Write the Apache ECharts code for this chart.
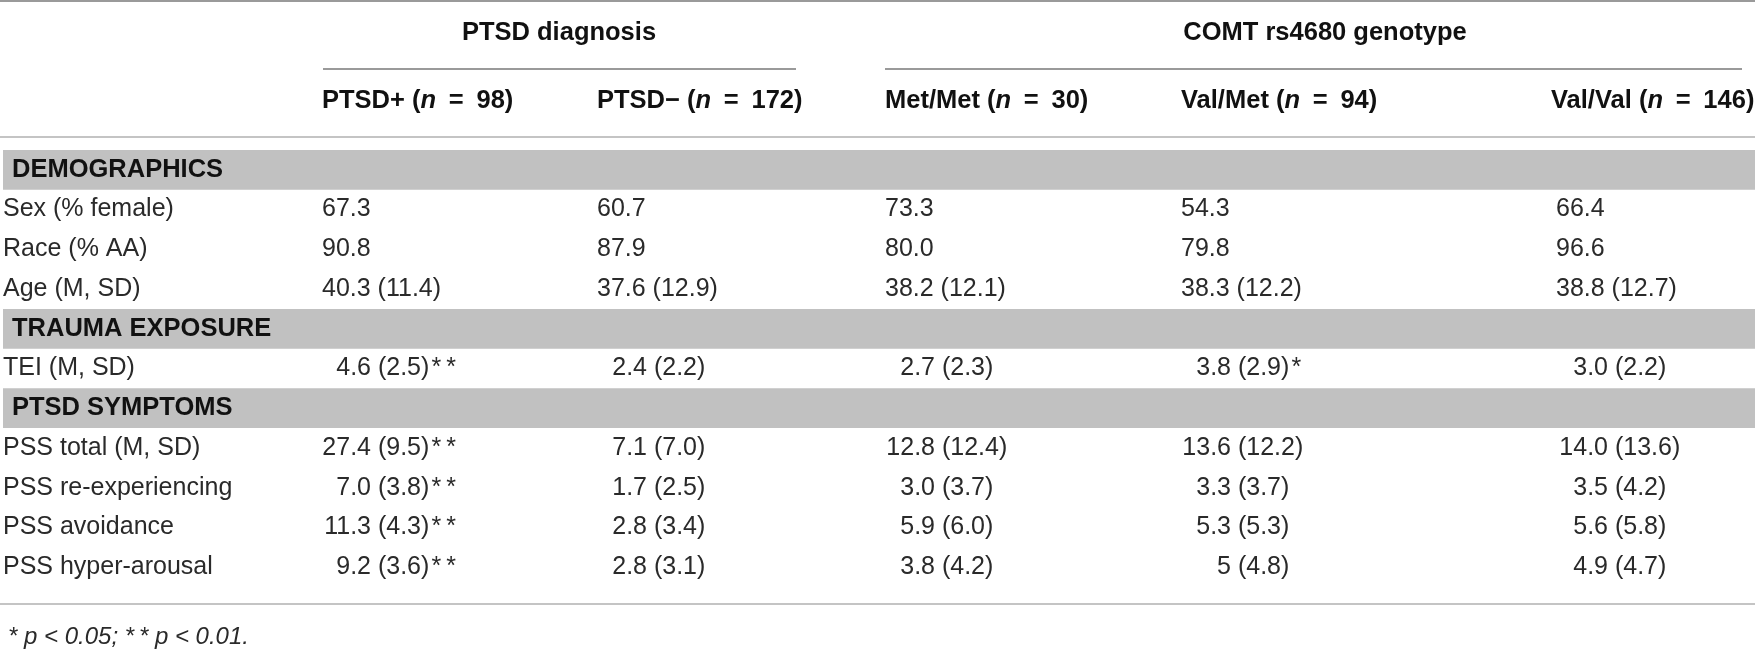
<!DOCTYPE html>
<html style="height: 100%">
<head>
    <meta charset="utf-8">
    <title>PTSD / COMT table</title>
    <script src="https://cdn.jsdelivr.net/npm/echarts/dist/echarts.min.js"></script>
</head>
<body style="height: 100%; margin: 0; background: #fff">
    <div id="main" style="width: 1755px; height: 651px"></div>
    <script type="text/javascript">
        // 表格数据
        var groups = ['PTSD diagnosis', 'COMT rs4680 genotype'];
        var columns = ['PTSD+', 'PTSD\u2212', 'Met/Met', 'Val/Met', 'Val/Val'];
        var columnN = [98, 172, 30, 94, 146];
        var sectionNames = ['DEMOGRAPHICS', 'TRAUMA EXPOSURE', 'PTSD SYMPTOMS'];
        var rowLabels = ['Sex (% female)', 'Race (% AA)', 'Age (M, SD)', 'TEI (M, SD)',
            'PSS total (M, SD)', 'PSS re-experiencing', 'PSS avoidance', 'PSS hyper-arousal'];
        var sectionOfRow = [0, 0, 0, 1, 2, 2, 2, 2];
        var ptsdPos = ['67.3', '90.8', '40.3 (11.4)', '4.6 (2.5)**', '27.4 (9.5)**', '7.0 (3.8)**', '11.3 (4.3)**', '9.2 (3.6)**'];
        var ptsdNeg = ['60.7', '87.9', '37.6 (12.9)', '2.4 (2.2)', '7.1 (7.0)', '1.7 (2.5)', '2.8 (3.4)', '2.8 (3.1)'];
        var metMet = ['73.3', '80.0', '38.2 (12.1)', '2.7 (2.3)', '12.8 (12.4)', '3.0 (3.7)', '5.9 (6.0)', '3.8 (4.2)'];
        var valMet = ['54.3', '79.8', '38.3 (12.2)', '3.8 (2.9)*', '13.6 (12.2)', '3.3 (3.7)', '5.3 (5.3)', '5 (4.8)'];
        var valVal = ['66.4', '96.6', '38.8 (12.7)', '3.0 (2.2)', '14.0 (13.6)', '3.5 (4.2)', '5.6 (5.8)', '4.9 (4.7)'];
        var footnote = '* p < 0.05; ** p < 0.01.';

        // 版式
        var W = 1755;
        var FONT = '"Liberation Sans", Arial, sans-serif';
        var FS = 25;
        var FSB = 25.5;
        var INK = '#2a2a2a';
        var colLeft = [322, 597, 885, 1181, 1556];
        var headLeft = [322, 597, 885, 1181, 1551];
        var colAnchor = [371, 647, 935, 1231, 1608];
        var groupCenter = [559, 1325];
        var groupSpan = [[323, 796], [885, 1742]];
        var colValues = [ptsdPos, ptsdNeg, metMet, valMet, valVal];

        // 星号之间留一点空隙
        function stars(t) {
            return t.replace(/\*\*/g, '\u200a*\u2009*').replace(/\)\*$/, ')\u200a*');
        }

        // 行类别（含分节标题）
        var categories = [];
        var bandData = [];
        var cellData = [];
        var cellText = [];
        var cellAlign = [];
        sectionNames.forEach(function (s, si) {
            bandData.push([0, categories.length]);
            categories.push(s);
            rowLabels.forEach(function (label, ri) {
                if (sectionOfRow[ri] !== si) return;
                var row = categories.length;
                categories.push(label);
                cellData.push([3, row]); cellText.push(label); cellAlign.push('left');
                colValues.forEach(function (vals, ci) {
                    var t = vals[ri];
                    var sp = t.indexOf(' ');
                    if (si === 0) {
                        cellData.push([colLeft[ci], row]); cellText.push(t); cellAlign.push('left');
                    } else {
                        // 以括号前的空格对齐
                        cellData.push([colAnchor[ci], row]); cellText.push(t.slice(0, sp)); cellAlign.push('right');
                        cellData.push([colAnchor[ci], row]); cellText.push(stars(t.slice(sp))); cellAlign.push('left');
                    }
                });
            });
        });

        var myChart = echarts.init(document.getElementById('main'));

        var graphics = [];
        function hline(x1, x2, y, color) {
            graphics.push({ type: 'line', silent: true, shape: { x1: x1, y1: y, x2: x2, y2: y },
                style: { stroke: color, lineWidth: 2 } });
        }
        hline(0, W, 1, '#9a9a9a');
        hline(0, W, 137, '#c4c4c4');
        hline(0, W, 604, '#c4c4c4');
        groups.forEach(function (g, gi) {
            graphics.push({ type: 'text', x: groupCenter[gi], y: 33, silent: true,
                style: { text: g, fill: '#111', font: 'bold ' + FSB + 'px ' + FONT, align: 'center', verticalAlign: 'middle' } });
            hline(groupSpan[gi][0], groupSpan[gi][1], 69, '#9a9a9a');
        });
        columns.forEach(function (c, ci) {
            graphics.push({ type: 'text', x: headLeft[ci], y: 101, silent: true,
                style: { text: c + ' ({i|n}\u2002=\u2002' + columnN[ci] + ')', fill: '#111',
                    font: 'bold ' + FSB + 'px ' + FONT, align: 'left', verticalAlign: 'middle',
                    rich: { i: { fontStyle: 'italic', fontWeight: 'bold', fontSize: FSB, fontFamily: FONT, fill: '#111' } } } });
        });
        graphics.push({ type: 'text', x: 8, y: 637, silent: true,
            style: { text: footnote.replace('**', '*\u2009*'), fill: INK, font: 'italic 24px ' + FONT, align: 'left', verticalAlign: 'middle' } });

        var option = {
            backgroundColor: '#fff',
            animation: false,
            grid: { left: 0, right: 0, top: 150, bottom: 64 },
            xAxis: { type: 'value', min: 0, max: W, show: false },
            yAxis: { type: 'category', inverse: true, data: categories, show: false },
            graphic: graphics,
            series: [
                {
                    type: 'custom',
                    data: bandData,
                    renderItem: function (params, api) {
                        var p = api.coord([0, api.value(1)]);
                        var h = api.size([0, 1])[1];
                        return {
                            type: 'group',
                            children: [
                                { type: 'rect', shape: { x: 3, y: p[1] - h / 2, width: W - 3, height: h },
                                    style: { fill: '#c1c1c1' } },
                                { type: 'text', x: 12, y: p[1],
                                    style: { text: sectionNames[params.dataIndex], fill: '#111',
                                        font: 'bold ' + FSB + 'px ' + FONT, align: 'left', verticalAlign: 'middle' } }
                            ]
                        };
                    }
                },
                {
                    type: 'custom',
                    data: cellData,
                    renderItem: function (params, api) {
                        var p = api.coord([api.value(0), api.value(1)]);
                        return {
                            type: 'text', x: p[0], y: p[1],
                            style: { text: cellText[params.dataIndex], fill: INK,
                                font: FS + 'px ' + FONT, align: cellAlign[params.dataIndex], verticalAlign: 'middle' }
                        };
                    }
                }
            ]
        };

        myChart.setOption(option);
    </script>
</body>
</html>
